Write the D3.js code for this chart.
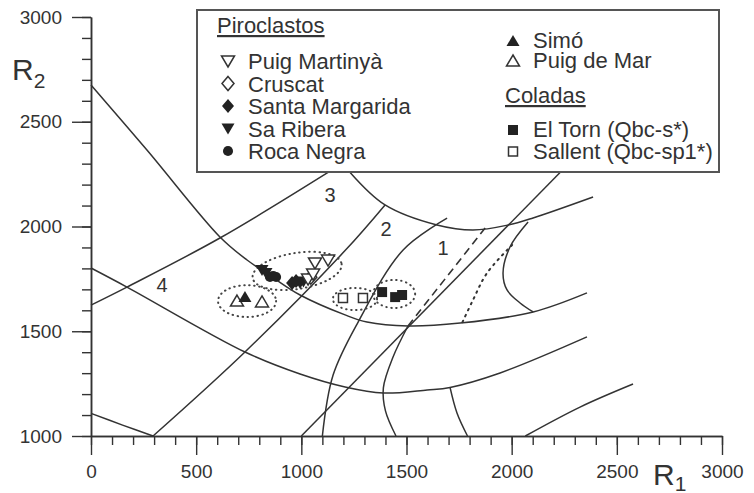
<!DOCTYPE html>
<html>
<head>
<meta charset="utf-8">
<script src="https://cdn.jsdelivr.net/npm/d3@7"></script>
<style>
  body { margin: 0; background: #fff; }
  text { font-family: "Liberation Sans", Arial, sans-serif; fill: #333; }
</style>
</head>
<body>
<script>
// axis ticks
const xTicks = [0, 500, 1000, 1500, 2000, 2500, 3000];
const yTicks = [1000, 1500, 2000, 2500, 3000];

// field boundaries, [R1, R2]
const lineA = [[0,2675],[266,2365],[613,1950],[742,1840],[861,1759],[994,1673],[1208,1578],[1312,1544],[1507,1525],[1755,1539],[2102,1592],[2358,1683]];
const lineB = [[0,1625],[171,1711],[613,1945],[1127,2258]];
const lineC = [[0,1802],[171,1711],[732,1401],[994,1296],[1208,1234],[1389,1205],[1598,1220],[1707,1232],[1945,1301],[2358,1473]];
const lineD = [[0,1108],[150,1052],[295,1000]];
const lineE = [[295,1000],[732,1401],[1208,1885],[1398,2103]];
const lineF = [[1100,1000],[1151,1291],[1270,1544],[1484,1888],[1693,2040]];
const lineG = [[1000,1000],[2230,2258]];
const lineH = [[1450,1000],[1400,1120],[1390,1230],[1436,1377],[1507,1525]];
const lineHdash = [[1507,1525],[1874,1993]];
const lineI = [[2078,2021],[1992,1902],[1959,1778],[1978,1697],[2040,1635],[2102,1592]];
const lineIdot = [[2002,1912],[1883,1778],[1816,1649],[1764,1539]];
const lineJ = [[1232,2258],[1398,2103],[1645,2007],[1816,1983],[1983,2007],[2102,2041],[2387,2141]];
const lineK = [[1707,1232],[1740,1110],[1790,1000]];
const lineL = [[2065,1000],[2325,1138],[2577,1248]];

const solidLines = [lineA, lineB, lineC, lineD, lineE, lineF, lineG, lineH, lineI, lineJ, lineK, lineL];

// field numbers
const fieldLabels = [["1",1674,1897],["2",1403,1988],["3",1136,2150],["4",338,1721]];

// samples
const puigMartinya = [[1065,1826],[1127,1840],[1032,1749],[1056,1773]];
const cruscat = [[1045,1758]];
const santaMargarida = [[956,1730],[975,1740]];
const saRibera = [[813,1792],[832,1778],[994,1730],[1010,1738]];
const rocaNegra = [[851,1759],[880,1759],[866,1764]];
const simo = [[732,1663]];
const puigDeMar = [[694,1644],[813,1640]];
const elTorn = [[1384,1687],[1446,1663],[1479,1673]];
const sallent = [[1198,1659],[1293,1659]];

// dotted groupings: cx, cy, rx, ry (data units), tilt
const groups = [[980,1788,214,86,-9],[742,1644,138,76,0],[1255,1654,105,53,0],[1441,1678,100,67,0]];

const legendLeft = [["Puig Martinyà","triDownOpen"],["Cruscat","diamondOpen"],["Santa Margarida","diamond"],["Sa Ribera","triDown"],["Roca Negra","circle"]];
const legendRightA = [["Simó","triUp"],["Puig de Mar","triUpOpen"]];
const legendRightB = [["El Torn (Qbc-s*)","square"],["Sallent (Qbc-sp1*)","squareOpen"]];

const W = 754, H = 493;
const x = d3.scaleLinear().domain([0, 3000]).range([91, 722]);
const y = d3.scaleLinear().domain([1000, 3000]).range([436, 17]);

const svg = d3.select("body").append("svg").attr("width", W).attr("height", H);

function shape(kind) {
  switch (kind) {
    case "triUp": case "triUpOpen": return "M0,-6L6.5,5L-6.5,5Z";
    case "triDown": case "triDownOpen": return "M0,6L6.5,-5L-6.5,-5Z";
    case "diamond": case "diamondOpen": return "M0,-7L6,0L0,7L-6,0Z";
    case "circle": return d3.symbol(d3.symbolCircle, 80)();
    case "square": return "M-5,-5H5V5H-5Z";
    case "squareOpen": return "M-4.5,-4.5H4.5V4.5H-4.5Z";
  }
}
function styleMark(sel, kind) {
  const open = kind.endsWith("Open");
  sel.attr("d", shape(kind))
    .attr("fill", open ? "#fff" : "#222")
    .attr("stroke", open ? "#333" : "none")
    .attr("stroke-width", 1.5);
}

const line = d3.line().x(d => x(d[0])).y(d => y(d[1])).curve(d3.curveCatmullRom.alpha(0.5));

const g = svg.append("g");
g.selectAll(".bound").data(solidLines).enter().append("path")
  .attr("d", line).attr("fill", "none").attr("stroke", "#333").attr("stroke-width", 1.5);
g.append("path").attr("d", line(lineHdash)).attr("fill", "none").attr("stroke", "#333")
  .attr("stroke-width", 1.6).attr("stroke-dasharray", "8,5");
g.append("path").attr("d", line(lineIdot)).attr("fill", "none").attr("stroke", "#333")
  .attr("stroke-width", 2).attr("stroke-dasharray", "1.5,5").attr("stroke-linecap", "round");

// dotted ellipses
g.selectAll(".grp").data(groups).enter().append("ellipse")
  .attr("transform", d => `translate(${x(d[0])},${y(d[1])}) rotate(${d[4]})`)
  .attr("rx", d => x(d[2]) - x(0))
  .attr("ry", d => y(1000) - y(1000 + d[3]))
  .attr("fill", "none").attr("stroke", "#444").attr("stroke-width", 2)
  .attr("stroke-dasharray", "0.5,4.5").attr("stroke-linecap", "round");

g.selectAll(".fl").data(fieldLabels).enter().append("text")
  .attr("x", d => x(d[1])).attr("y", d => y(d[2]))
  .attr("text-anchor", "middle").attr("dy", "0.35em")
  .style("font-size", "20px").text(d => d[0]);

// samples
const series = [[sallent,"squareOpen"],[elTorn,"square"],[puigDeMar,"triUpOpen"],[simo,"triUp"],
  [rocaNegra,"circle"],[saRibera,"triDown"],[santaMargarida,"diamond"],[cruscat,"diamondOpen"],[puigMartinya,"triDownOpen"]];
series.forEach(([pts, kind]) => {
  g.selectAll(null).data(pts).enter().append("path")
    .attr("transform", d => `translate(${x(d[0])},${y(d[1])})`)
    .call(styleMark, kind);
});

// axes
function styleAxis(a) {
  a.select(".domain").attr("stroke", "#333").attr("stroke-width", 1.5);
  a.selectAll(".tick line").attr("stroke", "#333").attr("stroke-width", 1.4);
  a.selectAll("text").style("font-size", "19px").style("font-family", '"Liberation Sans", Arial, sans-serif').attr("fill", "#333");
}
svg.append("g").attr("transform", "translate(0,436)")
  .call(d3.axisBottom(x).tickValues(d3.range(0, 3001, 100)).tickSize(9).tickSizeOuter(0).tickFormat(""))
  .call(styleAxis);
svg.append("g").attr("transform", "translate(0,436)")
  .call(d3.axisBottom(x).tickValues(xTicks).tickSize(19).tickPadding(10).tickSizeOuter(0).tickFormat(d3.format("d")))
  .call(styleAxis);
svg.append("g").attr("transform", "translate(91,0)")
  .call(d3.axisLeft(y).tickValues(d3.range(1000, 3001, 100)).tickSize(9).tickSizeOuter(0).tickFormat(""))
  .call(styleAxis);
svg.append("g").attr("transform", "translate(91,0)")
  .call(d3.axisLeft(y).tickValues(yTicks).tickSize(19).tickPadding(10).tickSizeOuter(0).tickFormat(d3.format("d")))
  .call(styleAxis);

// axis titles
const r2 = svg.append("text").attr("x", 12).attr("y", 80).style("font-size", "30px").text("R");
r2.append("tspan").attr("dy", 8).style("font-size", "21px").text("2");
const r1 = svg.append("text").attr("x", 653).attr("y", 485).style("font-size", "30px").text("R");
r1.append("tspan").attr("dy", 6).style("font-size", "21px").text("1");

// legend
const lg = svg.append("g");
lg.append("rect").attr("x", 197).attr("y", 10).attr("width", 522).attr("height", 162)
  .attr("fill", "#fff").attr("stroke", "#555").attr("stroke-width", 2);
lg.append("text").attr("x", 217).attr("y", 33).style("font-size", "22px")
  .style("text-decoration", "underline").text("Piroclastos");
legendLeft.forEach(([name, kind], i) => {
  const by = 69 + i * 22.5;
  lg.append("path").attr("transform", `translate(228,${by - 8})`).call(styleMark, kind);
  lg.append("text").attr("x", 248).attr("y", by).style("font-size", "22px").text(name);
});
legendRightA.forEach(([name, kind], i) => {
  const by = 48 + i * 20;
  lg.append("path").attr("transform", `translate(513,${by - 7})`).call(styleMark, kind);
  lg.append("text").attr("x", 533).attr("y", by).style("font-size", "22px").text(name);
});
lg.append("text").attr("x", 505).attr("y", 103).style("font-size", "22px")
  .style("text-decoration", "underline").text("Coladas");
legendRightB.forEach(([name, kind], i) => {
  const by = 137 + i * 21.5;
  lg.append("path").attr("transform", `translate(513,${by - 7})`).call(styleMark, kind);
  lg.append("text").attr("x", 533).attr("y", by).style("font-size", "22px").text(name);
});
</script>
</body>
</html>
